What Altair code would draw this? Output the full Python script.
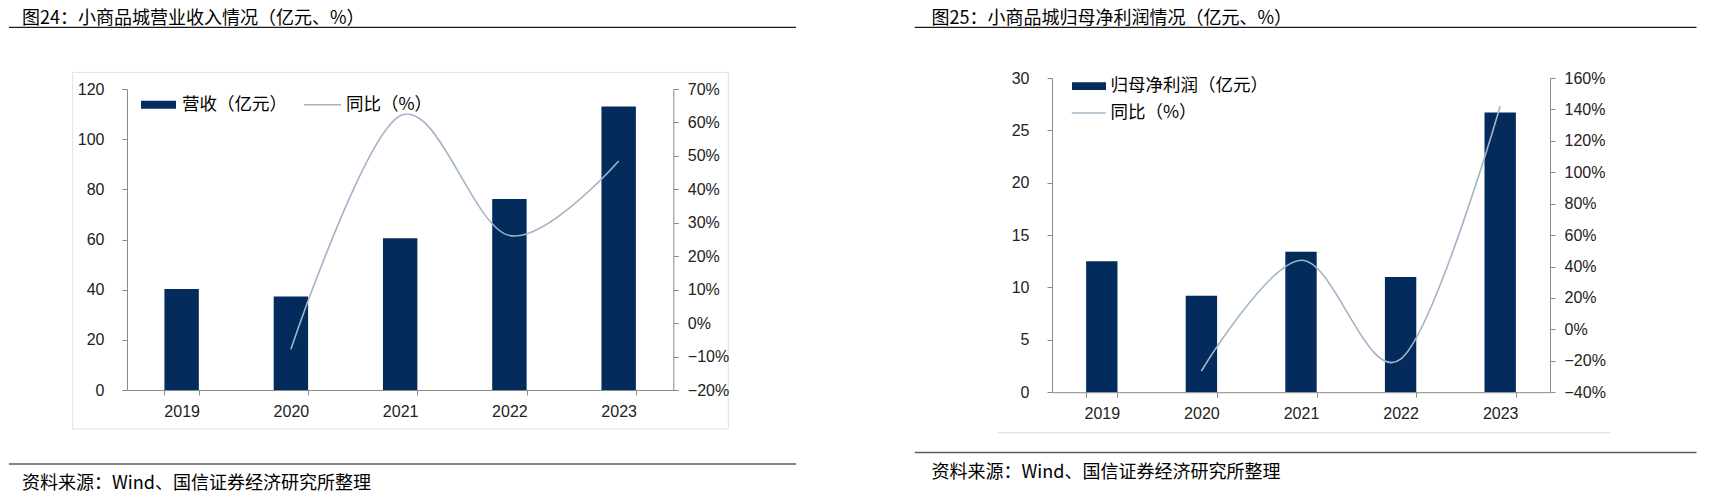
import altair as alt
import pandas as pd

years = ["2019", "2020", "2021", "2022", "2023"]

rev_name = "营收（亿元）"
revenue = [40.3, 37.3, 60.5, 76.1, 113.0]
revenue_yoy = [None, -0.078, 0.62, 0.262, 0.485]

prof_name = "归母净利润（亿元）"
profit = [12.5, 9.2, 13.4, 11.0, 26.7]
profit_yoy = [None, -0.265, 0.44, -0.19, 1.42]

yoy_name = "同比（%）"

rev_ticks = [0, 20, 40, 60, 80, 100, 120]
rev_pct_ticks = [-0.2, -0.1, 0.0, 0.1, 0.2, 0.3, 0.4, 0.5, 0.6, 0.7]
prof_ticks = [0, 5, 10, 15, 20, 25, 30]
prof_pct_ticks = [-0.4, -0.2, 0.0, 0.2, 0.4, 0.6, 0.8, 1.0, 1.2, 1.4, 1.6]

title1 = "图24：小商品城营业收入情况（亿元、%）"
title2 = "图25：小商品城归母净利润情况（亿元、%）"
source = "资料来源：Wind、国信证券经济研究所整理"

NAVY = "#032b5c"
LINE = "#a3b4c6"
AXC = "#8a8a8a"
CJK = "Noto Sans CJK SC"
NUM = "Liberation Sans"
BAR_PATH = "M-1,-0.23H1V0.23H-1Z"

AX = dict(domainColor=AXC, tickColor=AXC, tickSize=5, grid=False, zindex=1,
          labelFont=NUM, labelFontSize=16, labelColor="#222222",
          domainWidth=1, tickWidth=1, title=None)


def one(v):
    return pd.DataFrame({"t": [v]})


def panel(W, H, top_off, bar_name, bars, yoy, ticks, pct_ticks, g, leg):
    df = pd.DataFrame({"year": years, "value": bars, "series": bar_name})
    dl = pd.DataFrame({"year": years, "yoy": yoy, "series": yoy_name}).dropna()

    xenc = alt.X(
        "year:N", sort=years, title=None,
        scale=alt.Scale(paddingInner=0.685, paddingOuter=0.3425),
        axis=alt.Axis(labelAngle=0, tickBand="extent", labelPadding=8, **AX),
    )

    bg = alt.Chart(one("")).mark_rect(fill="white").encode(
        x=alt.value(g["bx"]), x2=alt.value(g["bx2"]),
        y=alt.value(g["by"]), y2=alt.value(g["by2"]))

    bar = alt.Chart(df).mark_bar().encode(
        x=xenc,
        y=alt.Y("value:Q", title=None,
                scale=alt.Scale(domain=[ticks[0], ticks[-1]], nice=False, range=[H, top_off]),
                axis=alt.Axis(orient="left", values=ticks, labelPadding=18, **AX)),
        fill=alt.Fill("series:N", scale=alt.Scale(range=[NAVY]),
                      legend=alt.Legend(title=None, orient="none",
                                        legendX=leg["bx"], legendY=leg["by"],
                                        symbolType=BAR_PATH, symbolSize=leg["bs"] ** 2,
                                        symbolStrokeWidth=0, symbolOpacity=1,
                                        labelFont=CJK, labelFontSize=17.5,
                                        labelColor="#000000",
                                        labelOffset=leg["bo"], padding=0)),
    )

    line = alt.Chart(dl).mark_line(interpolate="cardinal", tension=0, strokeWidth=1.6).encode(
        x=alt.X("year:N", sort=years),
        y=alt.Y("yoy:Q", title=None,
                scale=alt.Scale(domain=[pct_ticks[0], pct_ticks[-1]], nice=False, range=[H, top_off]),
                axis=alt.Axis(orient="right", values=pct_ticks, format=".0%", labelPadding=9, **AX)),
        stroke=alt.Stroke("series:N", scale=alt.Scale(range=[LINE]),
                          legend=alt.Legend(title=None, orient="none",
                                            legendX=leg["lx"], legendY=leg["ly"],
                                            symbolType="stroke", symbolSize=leg["ls"] ** 2,
                                            symbolStrokeWidth=1.6,
                                            labelFont=CJK, labelFontSize=17.5,
                                            labelColor="#000000",
                                            labelOffset=leg["lo"], padding=0)),
    )

    deco = []
    if "box" in g:
        x0, x1, y0, y1 = g["box"]
        deco.append(alt.Chart(one("")).mark_rect(fillOpacity=0, stroke="#e2e2e2", strokeWidth=1).encode(
            x=alt.value(x0), x2=alt.value(x1), y=alt.value(y0), y2=alt.value(y1)))
    if "gray" in g:
        x0, x1, y0 = g["gray"]
        deco.append(alt.Chart(one("")).mark_rule(color="#e2e2e2", strokeWidth=1.2).encode(
            x=alt.value(x0), x2=alt.value(x1), y=alt.value(y0)))
    deco.append(alt.Chart(one("")).mark_rule(color="#1a1a1a", strokeWidth=1.2).encode(
        x=alt.value(g["rx"]), x2=alt.value(g["rx2"]), y=alt.value(g["top"])))
    deco.append(alt.Chart(one("")).mark_rule(color="#5a5a5a", strokeWidth=1.5).encode(
        x=alt.value(g["rx"]), x2=alt.value(g["rx2"]), y=alt.value(g["bot"])))
    deco.append(alt.Chart(one(g["title"])).mark_text(
        align="left", baseline="middle", font=CJK, fontSize=18, color="#000000").encode(
        text="t:N", x=alt.value(g["tx"]), y=alt.value(g["ty"])))
    deco.append(alt.Chart(one(source)).mark_text(
        align="left", baseline="middle", font=CJK, fontSize=18, color="#000000").encode(
        text="t:N", x=alt.value(g["tx"]), y=alt.value(g["sy"])))

    return alt.layer(bg, *deco, bar, line).resolve_scale(y="independent").properties(
        width=W, height=H)


# both panels: plot origin at page y 77.3
# panel 1: plot origin x at page 126; values start 11 px below origin
g1 = dict(bx=-118, bx2=674, by=-69.3, by2=413.7,
          box=(-54.3, 601.3, -5.6, 351.0),
          rx=-118, rx2=669, top=-50.6, bot=386.0,
          tx=-105, ty=-59.0, sy=405.7, title=title1)
leg1 = dict(bx=14, by=9.2, bs=35, bo=6, lx=176, ly=7.2, ls=37, lo=4)

# panel 2: plot origin x at page 1050.5
g2 = dict(bx=-250.5, bx2=654.5, by=-69.3, by2=413.7,
          gray=(-54.5, 558.5, 354.7),
          rx=-137.2, rx2=644.5, top=-50.6, bot=374.4,
          tx=-120.5, ty=-59.0, sy=395.2, title=title2)
leg2 = dict(bx=20, by=-8.8, bs=34, bo=4.5, lx=18.75, ly=17, ls=34, lo=3.75)

p1 = panel(546.3, 312, 11, rev_name, revenue, revenue_yoy, rev_ticks, rev_pct_ticks, g1, leg1)
p2 = panel(498, 314.2, 0, prof_name, profit, profit_yoy, prof_ticks, prof_pct_ticks, g2, leg2)

chart = alt.hconcat(p1, p2, spacing=0).resolve_scale(
    fill="independent", stroke="independent"
).resolve_legend(fill="independent", stroke="independent").properties(
    padding=0, background="white"
).configure_view(stroke=None)

chart.save("out.html", embed_options={"renderer": "svg", "actions": False})
